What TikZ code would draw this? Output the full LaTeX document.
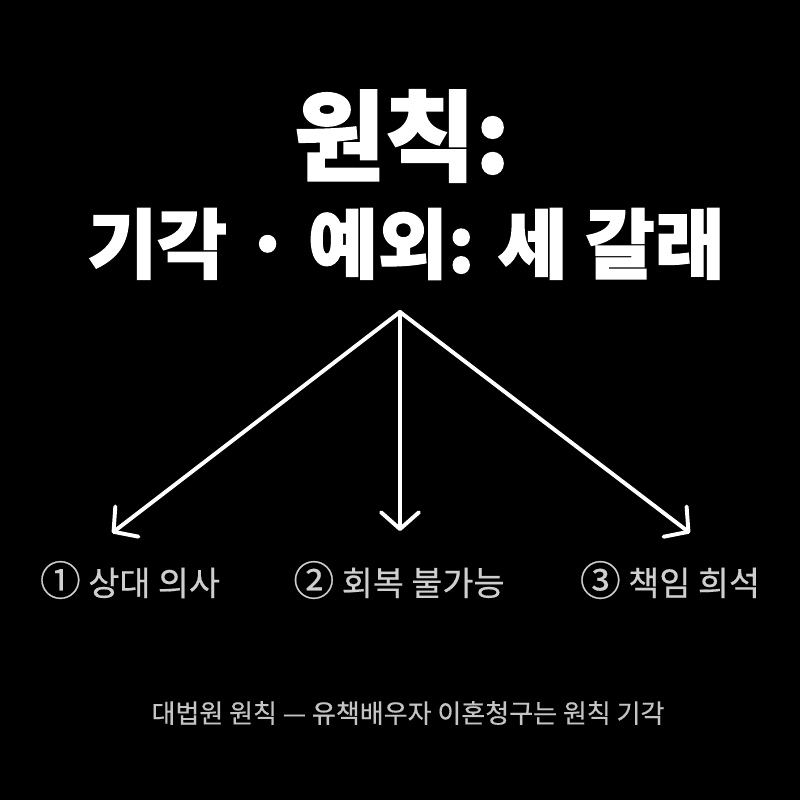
\documentclass[tikz,border=0pt]{standalone}
\usepackage{fontspec}
\setmainfont{Noto Sans CJK KR}
\newfontfamily\titlefont[FakeBold=1.6]{Noto Sans CJK KR}
\newfontfamily\labelfont[FakeBold=0.5]{Noto Sans CJK KR}
\usetikzlibrary{arrows.meta}
\definecolor{labelgray}{HTML}{CFCFCF}
\definecolor{notegray}{HTML}{C4C4C4}
\newcommand{\numsign}[1]{{\fontsize{29}{29}\selectfont #1}}
\tikzset{
  title/.style={text=white},
  branch/.style={text=labelgray,font=\labelfont\fontsize{24}{28}\selectfont},
  fork/.style={draw=white,line width=2.8pt,line cap=round,-{Straight Barb[length=0.42cm,width=0.95cm,round]}}
}
\begin{document}
\begin{tikzpicture}[x=0.025cm,y=-0.025cm]
    \fill[black] (0,0) rectangle (800,800);
    \node[title,font=\titlefont\bfseries\fontsize{70}{80}\selectfont] (head) at (402,136) {원칙:};
    \node[title,font=\titlefont\bfseries\fontsize{54}{60}\selectfont] (sub) at (406,244) {기각 · 예외: 세 갈래};
    \coordinate (top) at (400,312);
    \foreach \n/\x/\tx/\ty/\t/\s in {one/130/112/533/상대 의사/①,two/399/400/531/회복 불가능/②,three/670/690/533/책임 희석/③}
    {
      \coordinate (tip\n) at (\tx,\ty);
      \draw[fork] (top) -- (tip\n);
      \node[branch] (\n) at (\x,580) {\numsign{\s} \t};
    }
    \node[text=notegray,font=\labelfont\fontsize{18.5}{22}\selectfont] (note) at (408,713) {대법원 원칙 — 유책배우자 이혼청구는 원칙 기각};
  \end{tikzpicture}
\end{document}
